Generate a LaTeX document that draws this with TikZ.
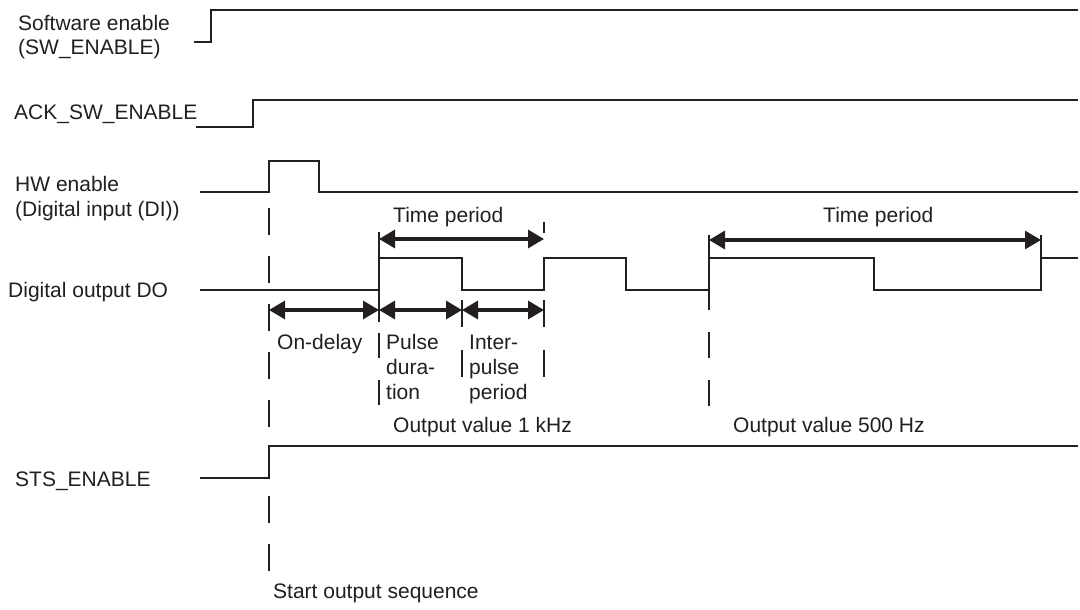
\documentclass[tikz,border=0pt]{standalone}
\usepackage{fontspec}
\setmainfont{Liberation Sans}
\usetikzlibrary{arrows.meta}
\definecolor{ink}{HTML}{231F20}
\begin{document}
\begin{tikzpicture}[x=1pt,y=-1pt,
  sig/.style={draw=ink,line width=1.4pt},
  dimarrow/.style={draw=ink,line width=3.2pt,{Triangle[length=16pt 0,width=18pt 0]}-{Triangle[length=16pt 0,width=18pt 0]}},
  ext/.style={draw=ink,line width=1.4pt},
  extdash/.style={ext,dash pattern=on 27pt off 21pt},
  lbl/.style={anchor=base west,inner sep=0pt,text=ink,font=\fontsize{21}{25}\selectfont},
]
\useasboundingbox[fill=white] (0,0) rectangle (1080,610);

% signal traces
\draw[sig] (194,42) -- (211,42) -- (211,10) -- (1078,10);
\draw[sig] (196,127) -- (253,127) -- (253,100) -- (1078,100);
\draw[sig] (200,192) -- (269,192) -- (269,161) -- (319,161) -- (319,192) -- (1078,192);
\draw[sig] (200,290) -- (379,290) -- (379,258) -- (462,258) -- (462,290) -- (544,290) -- (544,258)
  -- (626,258) -- (626,290) -- (709,290) -- (709,258) -- (874,258) -- (874,290) -- (1041,290)
  -- (1041,258) -- (1078,258);
\draw[sig] (200,478) -- (269,478) -- (269,446) -- (1078,446);

% extension lines
\draw[extdash] (269,208) -- (269,571);
\draw[ext] (379,232) -- (379,322);
\draw[ext,dash pattern=on 25pt off 22pt] (379,333) -- (379,407);
\draw[ext,dash pattern=on 27pt off 23pt] (462,300) -- (462,377);
\draw[ext] (544,222) -- (544,233);
\draw[ext,dash pattern=on 27pt off 23pt] (544,300) -- (544,377);
\draw[ext] (709,235) -- (709,310);
\draw[ext,dash pattern=on 26pt off 22pt] (709,332) -- (709,407);
\draw[ext] (1041,235) -- (1041,290);

% dimension arrows
\coordinate (tpA) at (379,239);
\coordinate (tpB) at (544,239);
\coordinate (tpC) at (709,240);
\coordinate (tpD) at (1041,240);
\coordinate (d0) at (269,310);
\coordinate (d1) at (379,310);
\coordinate (d2) at (462,310);
\coordinate (d3) at (544,310);
\draw[dimarrow] (tpA) -- (tpB);
\draw[dimarrow] (tpC) -- (tpD);
\draw[dimarrow] (d0) -- (d1);
\draw[dimarrow] (d1) -- (d2);
\draw[dimarrow] (d2) -- (d3);

% labels
\node[lbl] (swa) at (18,31) {Software enable};
\node[lbl] (swb) at (18,55) {(SW\_ENABLE)};
\node[lbl] (ack) at (14,120) {ACK\_SW\_ENABLE};
\node[lbl] (hwa) at (15,191) {HW enable};
\node[lbl] (hwb) at (15,216) {(Digital input (DI))};
\node[lbl] (dout) at (8,297) {Digital output DO};
\node[lbl] (sts) at (15,486) {STS\_ENABLE};
\node[lbl] (tp1) at (393,222) {Time period};
\node[lbl] (tp2) at (823,222) {Time period};
\node[lbl] (ond) at (277,349) {On-delay};
\node[lbl] (pa) at (386,349) {Pulse};
\node[lbl] (pb) at (386,374) {dura-};
\node[lbl] (pc) at (386,399) {tion};
\node[lbl] (ia) at (469,349) {Inter-};
\node[lbl] (ib) at (469,374) {pulse};
\node[lbl] (ic) at (469,399) {period};
\node[lbl] (ov1) at (393,432) {Output value 1 kHz};
\node[lbl] (ov2) at (733,432) {Output value 500 Hz};
\node[lbl] (start) at (273,598) {Start output sequence};
\end{tikzpicture}
\end{document}
